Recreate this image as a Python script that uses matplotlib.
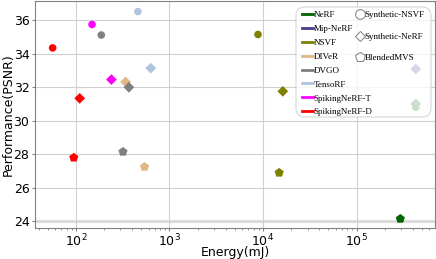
import matplotlib
matplotlib.use("Agg")
import matplotlib.pyplot as plt
from matplotlib.lines import Line2D
from matplotlib.patches import FancyBboxPatch

methods = ["NeRF", "Mip-NeRF", "NSVF", "DIVeR", "DVGO", "TensoRF", "SpikingNeRF-T", "SpikingNeRF-D"]
colors = ["darkgreen", "darkslateblue", "olive", "burlywood", "gray", "lightsteelblue", "magenta", "red"]

datasets = ["Synthetic-NSVF", "Synthetic-NeRF", "BlendedMVS"]
markers = ["o", "D", "p"]
msizes = [30, 30, 48]

# (method, energy mJ, PSNR) per dataset
nsvf_methods = ["NeRF", "NSVF", "DVGO", "TensoRF", "SpikingNeRF-T", "SpikingNeRF-D"]
nsvf_energy = [430000, 8850, 187, 460, 149, 56.5]
nsvf_psnr = [30.81, 35.15, 35.12, 36.52, 35.75, 34.35]

nerf_methods = ["NeRF", "Mip-NeRF", "NSVF", "DIVeR", "DVGO", "TensoRF", "SpikingNeRF-T", "SpikingNeRF-D"]
nerf_energy = [430000, 430000, 16300, 340, 369, 632, 240, 110]
nerf_psnr = [31.01, 33.09, 31.76, 32.32, 32.0, 33.14, 32.46, 31.34]

bmvs_methods = ["NeRF", "NSVF", "DIVeR", "DVGO", "SpikingNeRF-D"]
bmvs_energy = [294000, 14900, 542, 319, 95]
bmvs_psnr = [24.15, 26.9, 27.25, 28.15, 27.8]

cmap = dict(zip(methods, colors))

fig = plt.figure(figsize=(4.36, 2.59), dpi=100)
ax = fig.add_axes([35/436, 31/259, 400/436, 227/259])

for ds_m, ds_e, ds_p, mk, ms in [(nsvf_methods, nsvf_energy, nsvf_psnr, markers[0], msizes[0]),
                                 (nerf_methods, nerf_energy, nerf_psnr, markers[1], msizes[1]),
                                 (bmvs_methods, bmvs_energy, bmvs_psnr, markers[2], msizes[2])]:
    ax.scatter(ds_e, ds_p, c=[cmap[m] for m in ds_m], marker=mk, s=ms, zorder=3, linewidths=0)

ax.set_xscale("log")
ax.set_xlim(36.6, 6.9e5)
ax.set_ylim(23.6, 37.15)
ax.set_yticks([24, 26, 28, 30, 32, 34, 36])
ax.grid(True, which="major", color="#d0d0d0", lw=0.8, zorder=0)
ax.axhline(24, color="#e6e6e6", lw=2.5, zorder=0.5)
ax.set_axisbelow(True)
for s in ax.spines.values():
    s.set_color("0.5")
ax.tick_params(axis="both", which="both", colors="0.5", labelcolor="black", labelsize=9)
ax.tick_params(axis="both", which="major", length=2.5, pad=1.5)
ax.tick_params(axis="x", which="major", pad=0.8)
ax.tick_params(axis="x", which="minor", length=1.5)
ax.set_xlabel("Energy(mJ)", fontsize=9)
ax.set_ylabel("Performance(PSNR)", fontsize=9)
ax.xaxis.set_label_coords(0.5, -0.079)
ax.yaxis.set_label_coords(-0.05, 0.5)

# legend frame
fb = FancyBboxPatch((296/100, (259 - 117)/100), 135/100, 110/100,
                    boxstyle="round,pad=0,rounding_size=0.09",
                    transform=fig.dpi_scale_trans, facecolor="white", edgecolor="0.8",
                    alpha=0.8, lw=0.8, zorder=10, clip_on=False)
ax.add_artist(fb)

line_handles = [Line2D([], [], color=c, lw=2) for c in colors]
leg1 = ax.legend(line_handles, methods, loc="upper left", bbox_to_anchor=(299/436, 251/259),
                 bbox_transform=fig.transFigure, frameon=False, handlelength=1.25, handletextpad=0.05,
                 labelspacing=0.62, borderpad=0.3, borderaxespad=0,
                 prop={"family": "Liberation Serif", "size": 6.5})
leg1.set_zorder(11)
ax.add_artist(leg1)

mk_sizes_leg = [7, 5.5, 7]
mk_handles = [Line2D([], [], linestyle="", marker=m, markersize=sz,
                      markerfacecolor="white", markeredgecolor="0.55", markeredgewidth=0.8)
              for m, sz in zip(markers, mk_sizes_leg)]
leg2 = ax.legend(mk_handles, datasets, loc="upper left", bbox_to_anchor=(353/436, 251/259),
                 bbox_transform=fig.transFigure, frameon=False, handlelength=0.9, handletextpad=0.05,
                 labelspacing=1.48, borderpad=0.3, borderaxespad=0,
                 prop={"family": "Liberation Serif", "size": 6.5})
leg2.set_zorder(11)

fig.savefig("out.png", dpi=100)
